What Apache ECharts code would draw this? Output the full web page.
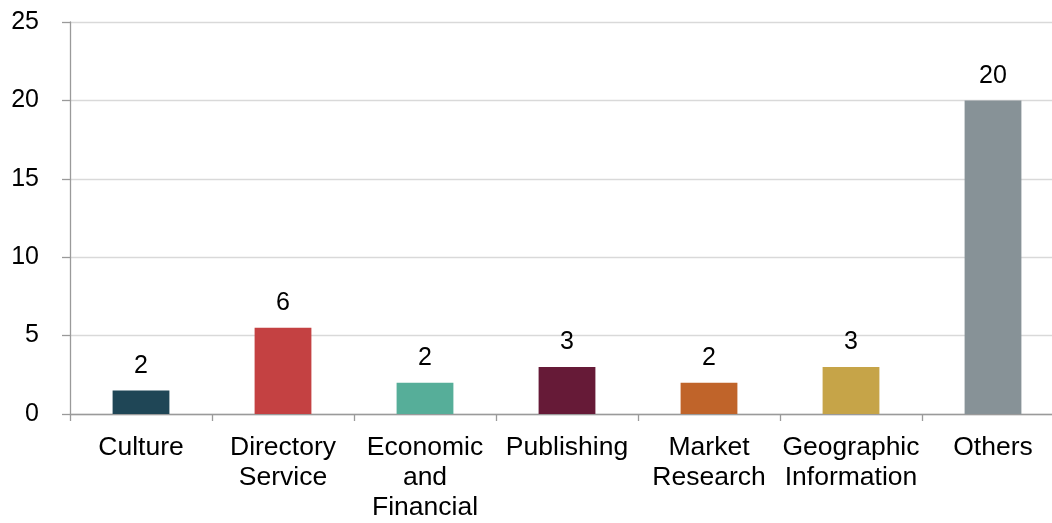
<!DOCTYPE html>
<html>
<head>
<meta charset="utf-8">
<style>
  html, body { margin: 0; padding: 0; background: #ffffff; overflow: hidden; }
  #wrap { width: 1052px; height: 523px; overflow: hidden; }
  /* the plot area runs slightly past the right edge of the page */
  #chart { width: 1080px; height: 523px; }
</style>
<script src="https://cdn.jsdelivr.net/npm/echarts@6/dist/echarts.min.js"></script>
</head>
<body>
<div id="wrap"><div id="chart"></div></div>
<script>
// Number of datasets by domain
const categories = [
  'Culture',
  'Directory\nService',
  'Economic\nand\nFinancial',
  'Publishing',
  'Market\nResearch',
  'Geographic\nInformation',
  'Others'
];
const counts = [1.5, 5.5, 2, 3, 2, 3, 20];
const barColors = ['#1f4656', '#c44142', '#56ae99', '#661a37', '#c0642a', '#c6a448', '#879297'];
const yTicks = [0, 5, 10, 15, 20, 25];

const FONT = '"Liberation Sans", Arial, sans-serif';

const chart = echarts.init(document.getElementById('chart'), null, { renderer: 'canvas' });

chart.setOption({
  animation: false,
  backgroundColor: '#ffffff',
  grid: { left: 70, top: 22, width: 994, height: 395, containLabel: false },
  xAxis: {
    type: 'category',
    data: categories,
    axisLine: { show: true, lineStyle: { color: '#9a9a9a', width: 1.3 } },
    axisTick: { show: true, alignWithLabel: false, length: 7, lineStyle: { color: '#9a9a9a', width: 1.3 } },
    axisLabel: {
      interval: 0,
      margin: 19,
      color: '#000000',
      fontFamily: FONT,
      fontSize: 26.5,
      lineHeight: 30,
      align: 'center'
    },
    splitLine: { show: false }
  },
  yAxis: {
    type: 'value',
    min: yTicks[0],
    max: yTicks[yTicks.length - 1],
    interval: yTicks[1] - yTicks[0],
    axisLine: { show: true, lineStyle: { color: '#9a9a9a', width: 1.3 } },
    axisTick: { show: true, length: 8, lineStyle: { color: '#9a9a9a', width: 1.3 } },
    axisLabel: {
      margin: 31,
      color: '#000000',
      fontFamily: FONT,
      fontSize: 25,
      formatter: v => String(v)
    },
    splitLine: { show: true, lineStyle: { color: '#d9d9d9', width: 1.3 } }
  },
  series: [{
    type: 'bar',
    data: counts.map((v, i) => ({ value: v, itemStyle: { color: barColors[i] } })),
    barWidth: '40%',
    label: {
      show: true,
      position: 'top',
      distance: 12,
      color: '#000000',
      fontFamily: FONT,
      fontSize: 25,
      formatter: p => String(Math.round(p.value))
    }
  }]
});
</script>
</body>
</html>
